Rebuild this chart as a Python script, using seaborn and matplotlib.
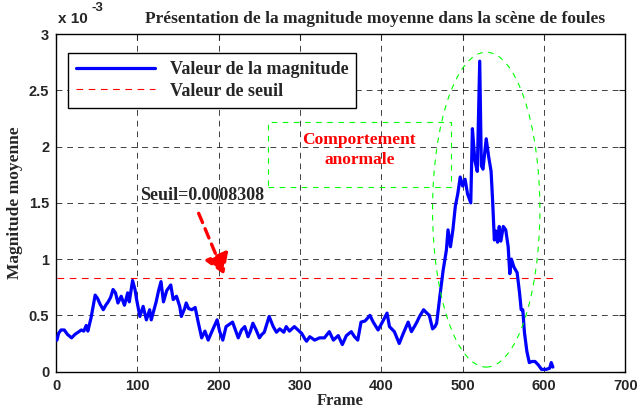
import numpy as np
import pandas as pd
import seaborn as sns
import matplotlib.pyplot as plt
from matplotlib.patches import Ellipse, Rectangle, FancyArrowPatch

# values, magnitude in units of 1e-3
frames = [1, 3, 6, 10, 14, 19, 23, 27, 31, 34, 37, 39, 43, 46, 48, 51, 54, 58, 61, 64,
          67, 70, 73, 76, 80, 84, 88, 90, 94, 97, 99, 103, 107, 111, 115, 117, 120, 123, 126, 129,
          132, 136, 139, 141, 144, 148, 152, 154, 158, 160, 163, 167, 171, 175, 179, 183, 187, 190, 193, 198,
          201, 205, 209, 213, 217, 220, 224, 228, 232, 236, 239, 242, 246, 250, 253, 256, 262, 267, 271, 275,
          280, 283, 287, 293, 299, 302, 306, 308, 312, 318, 324, 330, 336, 341, 347, 352, 357, 363, 367, 371,
          375, 380, 386, 390, 396, 402, 407, 410, 416, 422, 427, 433, 437, 443, 447, 452, 456, 459, 463, 466,
          468, 472, 476, 480, 482, 485, 488, 491, 494, 497, 500, 503, 506, 510, 512, 515, 518, 521, 523, 525,
          529, 532, 535, 537, 539, 541, 543, 545, 547, 550, 553, 556, 558, 560, 563, 567, 570, 572, 574, 576,
          579, 582, 585, 589, 593, 597, 603, 607, 609, 611]
magnitude_e3 = [0.28, 0.34, 0.37, 0.37, 0.33, 0.30, 0.33, 0.35, 0.37, 0.36, 0.41, 0.36, 0.48, 0.60, 0.68, 0.65, 0.60, 0.55, 0.59, 0.62,
                0.66, 0.73, 0.70, 0.61, 0.67, 0.59, 0.70, 0.62, 0.81, 0.73, 0.64, 0.49, 0.58, 0.46, 0.55, 0.46, 0.54, 0.62, 0.72, 0.80,
                0.62, 0.72, 0.75, 0.77, 0.64, 0.67, 0.58, 0.49, 0.56, 0.61, 0.56, 0.55, 0.57, 0.43, 0.30, 0.36, 0.28, 0.33, 0.38, 0.46,
                0.36, 0.28, 0.40, 0.42, 0.44, 0.38, 0.30, 0.37, 0.40, 0.31, 0.36, 0.43, 0.37, 0.30, 0.33, 0.35, 0.49, 0.40, 0.35, 0.38,
                0.35, 0.40, 0.36, 0.40, 0.36, 0.34, 0.29, 0.27, 0.31, 0.28, 0.30, 0.30, 0.355, 0.28, 0.32, 0.24, 0.32, 0.355, 0.31, 0.28,
                0.44, 0.45, 0.50, 0.44, 0.37, 0.45, 0.52, 0.40, 0.355, 0.25, 0.34, 0.44, 0.355, 0.43, 0.49, 0.55, 0.52, 0.50, 0.38, 0.40,
                0.43, 0.67, 0.90, 1.08, 1.26, 1.11, 1.26, 1.47, 1.58, 1.73, 1.65, 1.71, 1.58, 1.50, 2.16, 1.88, 1.78, 2.76, 1.83, 1.80,
                2.07, 1.91, 1.78, 1.50, 1.17, 1.25, 1.15, 1.29, 1.16, 1.29, 1.26, 1.11, 0.87, 1.00, 0.93, 0.88, 0.70, 0.55, 0.55, 0.35,
                0.18, 0.08, 0.09, 0.09, 0.06, 0.02, 0.02, 0.03, 0.08, 0.04]
seuil_e3 = 0.8308
seuil_label = "Seuil=0.0008308"
xticks = [0, 100, 200, 300, 400, 500, 600, 700]
yticks = [0, 0.5, 1, 1.5, 2, 2.5, 3]
ytick_labels = ["0", "0.5", "1", "1.5", "2", "2.5", "3"]

df = pd.DataFrame({"Frame": frames, "Magnitude": magnitude_e3})

sns.set_style("white")
serif = ['Liberation Serif', 'DejaVu Serif']
sans = ['Liberation Sans', 'DejaVu Sans']
plt.rcParams['font.family'] = serif

fig = plt.figure(figsize=(6.38, 4.07), dpi=100)
ax = fig.add_axes([0.088, 0.087, 0.892, 0.829])

sns.lineplot(data=df, x="Frame", y="Magnitude", ax=ax, color=(0, 0, 1), lw=2.3,
             label="Valeur de la magnitude", zorder=3)
ax.plot([frames[0], frames[-1]], [seuil_e3, seuil_e3], color=(1, 0, 0), lw=0.8,
        ls=(0, (6, 5)), label="Valeur de seuil", zorder=2)

ax.set_xlim(0, 700)
ax.set_ylim(0, 3)
ax.set_xticks(xticks)
ax.set_yticks(yticks)
ax.set_xticklabels([str(t) for t in xticks], family=sans, weight='bold', fontsize=10.5)
ax.set_yticklabels(ytick_labels, family=sans, weight='bold', fontsize=10.5)
ax.tick_params(direction='in', length=4, width=0.8, top=True, right=True, pad=5)
ax.grid(True, color='black', lw=0.7, ls=(0, (6, 5)), alpha=0.75)
for s in ax.spines.values():
    s.set_linewidth(1.0)
    s.set_color('black')

ax.set_xlabel("Frame", family=serif, weight='bold', fontsize=12, labelpad=0)
ax.set_ylabel("Magnitude moyenne", family=serif, weight='bold', fontsize=12.5, labelpad=4)
ax.set_title("Présentation de la magnitude moyenne dans la scène de foules",
             family=serif, weight='bold', fontsize=12.5, x=0.56, pad=8)
fig.text(0.091, 0.943, "x 10", family=sans, weight='bold', fontsize=11)
fig.text(0.143, 0.972, "-3", family=sans, weight='bold', fontsize=9.5)

leg = ax.legend(loc='upper left', bbox_to_anchor=(0.02, 0.944), handlelength=4.4,
                prop={'family': serif, 'weight': 'bold', 'size': 13},
                fancybox=False, edgecolor='black', framealpha=1, borderpad=0.45,
                labelspacing=0.25, borderaxespad=0)
leg.get_frame().set_linewidth(1.0)

# annotations
ax.add_patch(Ellipse((529, 1.44), 132, 2.80, fill=False, ec=(0, 1, 0), lw=0.8,
                     ls=(0, (5, 5)), zorder=4))
ax.add_patch(Rectangle((260, 1.64), 226, 0.58, fill=False, ec=(0, 1, 0), lw=0.8,
                       ls=(0, (5, 5)), zorder=4))
ax.text(373, 2.06, "Comportement", color=(1, 0, 0), ha='center', va='center',
        family=serif, weight='bold', fontsize=12.5)
ax.text(373, 1.88, "anormale", color=(1, 0, 0), ha='center', va='center',
        family=serif, weight='bold', fontsize=12.5)
ax.text(103, 1.57, seuil_label, ha='left', va='center', family=serif, weight='bold', fontsize=13)
ax.add_patch(FancyArrowPatch((174, 1.43), (208, 0.84), arrowstyle='-|>,head_length=8,head_width=5',
                             color=(1, 0, 0), lw=2.4, ls=(0, (3, 2)), zorder=5, mutation_scale=1.5))

fig.savefig("out.png", dpi=100)
